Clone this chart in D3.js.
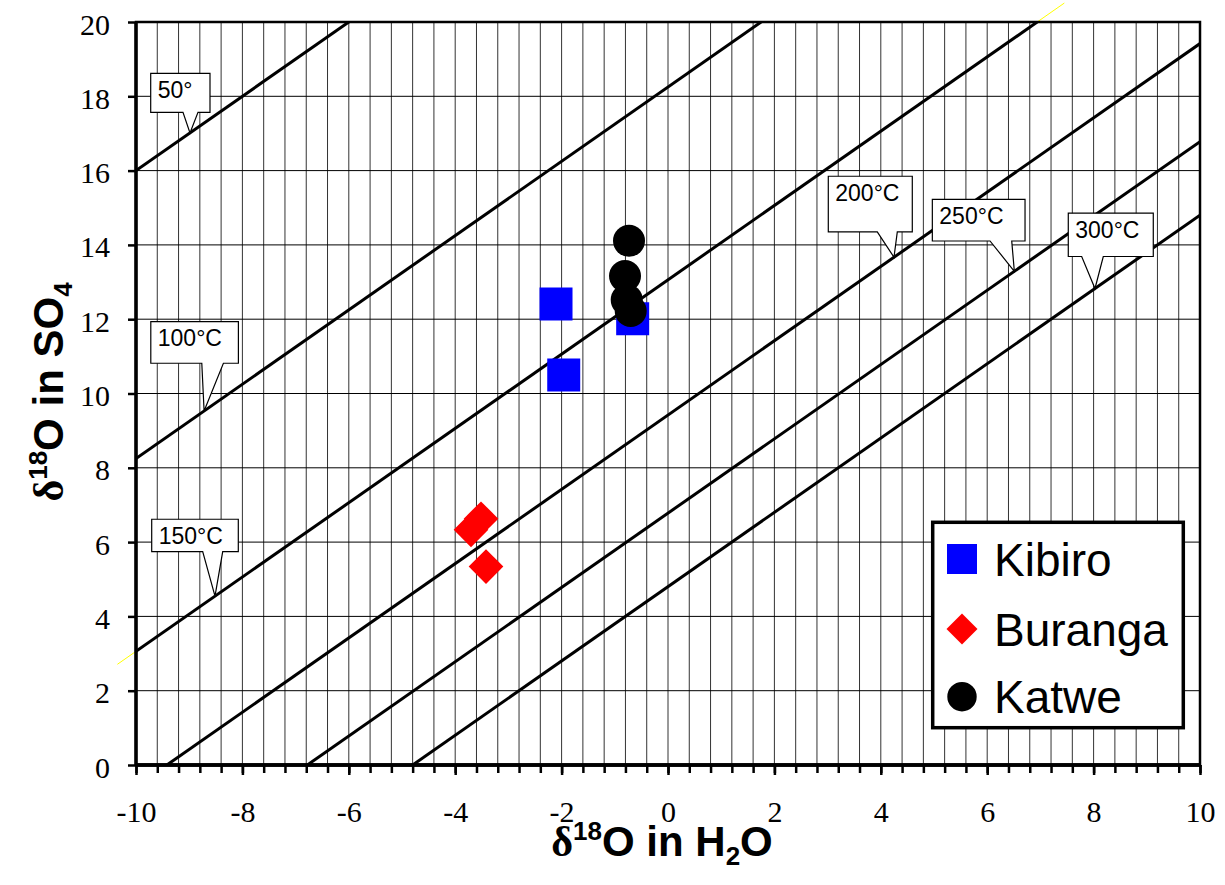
<!DOCTYPE html>
<html>
<head>
<meta charset="utf-8">
<script src="https://cdn.jsdelivr.net/npm/d3@7/dist/d3.min.js"></script>
<style>
  html, body { margin: 0; padding: 0; background: #fff; }
  svg { display: block; }
</style>
</head>
<body>
<svg id="chart" width="1225" height="885"></svg>
<script>
// ---------------- DATA ----------------
const xMajorTicks = [-10, -8, -6, -4, -2, 0, 2, 4, 6, 8, 10];
const yMajorTicks = [0, 2, 4, 6, 8, 10, 12, 14, 16, 18, 20];
const xMinorTicks = d3.range(0, 51).map(i => -10 + i * 0.4);

// Isotherm lines: δ18O(SO4) = δ18O(H2O) + offset
const isoLabels  = ["50°", "100°C", "150°C", "200°C", "250°C", "300°C"];
const isoOffsets = [26.0, 18.25, 13.06, 9.42, 6.78, 4.80];
// x (δ18O H2O) where each callout points on its line
const isoTipX    = [-8.985, -8.72, -8.515, 4.248, 6.51, 8.026];
// yellow overflow of the 150°C line
const yellowRange = [-10.35, 7.45];

const seriesNames = ["Kibiro", "Buranga", "Katwe"];
const kibiroX  = [-2.105, -1.96, -0.664];
const kibiroY  = [12.41, 10.50, 12.01];
const burangaX = [-3.703, -3.515, -3.421];
const burangaY = [6.33, 6.63, 5.34];
const katweX   = [-0.733, -0.808, -0.776, -0.701];
const katweY   = [14.11, 13.16, 12.52, 12.22];

// ---------------- LAYOUT ----------------
const svg = d3.select("#chart");
const L = 136, R = 1200, T = 22, B = 765;
const x = d3.scaleLinear().domain([-10, 10]).range([L, R]);
const y = d3.scaleLinear().domain([0, 20]).range([B, T]);

svg.append("defs").append("clipPath").attr("id", "plotclip")
  .append("rect").attr("x", L).attr("y", T).attr("width", R - L).attr("height", B - T);

// grid
const grid = svg.append("g");
grid.selectAll("line.v").data(xMinorTicks).join("line")
  .attr("x1", d => x(d)).attr("x2", d => x(d)).attr("y1", T).attr("y2", B)
  .attr("stroke", "#333").attr("stroke-width", 1);
grid.selectAll("line.h").data(yMajorTicks).join("line")
  .attr("x1", L).attr("x2", R).attr("y1", d => y(d)).attr("y2", d => y(d))
  .attr("stroke", "#000").attr("stroke-width", 1);

// yellow overflow line (150°C)
const yellowOff = isoOffsets[2];
svg.append("line")
  .attr("x1", x(yellowRange[0])).attr("y1", y(yellowRange[0] + yellowOff))
  .attr("x2", x(yellowRange[1])).attr("y2", y(yellowRange[1] + yellowOff))
  .attr("stroke", "#ffff00").attr("stroke-width", 1);

// isotherm lines
const lines = svg.append("g").attr("clip-path", "url(#plotclip)");
lines.selectAll("line").data(isoOffsets).join("line")
  .attr("x1", x(-10)).attr("y1", d => y(-10 + d))
  .attr("x2", x(10)).attr("y2", d => y(10 + d))
  .attr("stroke", "#000").attr("stroke-width", 3);

// plot border (top & right)
svg.append("rect").attr("x", L).attr("y", T).attr("width", R - L).attr("height", B - T)
  .attr("fill", "none").attr("stroke", "#000").attr("stroke-width", 2.5);

// callouts: box geometry relative to tip (pixels)
const callLayout = [
  { dx: -39.3, dy: -59.6, w: 59.3, h: 39,   b0: -7,  b1: 8 },
  { dx: -53.3, dy: -89.3, w: 87.6, h: 41.6, b0: -2.3, b1: 19.3 },
  { dx: -63.3, dy: -76.9, w: 86.6, h: 32.4, b0: -12.3, b1: 7.7 },
  { dx: -65.7, dy: -81,   w: 84,   h: 55.7, b0: -16.7, b1: 3.3 },
  { dx: -82,   dy: -72,   w: 92.7, h: 41.7, b0: -24.3, b1: -2.6 },
  { dx: -26.7, dy: -75.3, w: 85,   h: 43.3, b0: -13.3, b1: 8.3 }
];
const callG = svg.append("g");
isoLabels.forEach((lab, i) => {
  const tx = x(isoTipX[i]);
  const ty = y(isoTipX[i] + isoOffsets[i]);
  const c = callLayout[i];
  const bx = tx + c.dx, by = ty + c.dy, bw = c.w, bh = c.h;
  const p = [
    [bx, by], [bx + bw, by], [bx + bw, by + bh],
    [tx + c.b1, by + bh], [tx, ty], [tx + c.b0, by + bh],
    [bx, by + bh]
  ];
  callG.append("path")
    .attr("d", "M" + p.map(q => q.join(",")).join("L") + "Z")
    .attr("fill", "#fff").attr("stroke", "#000").attr("stroke-width", 1.2);
  callG.append("text")
    .attr("x", bx + 7).attr("y", by + 24.5)
    .attr("font-family", "Liberation Sans, Arial, sans-serif")
    .attr("font-size", 23).attr("fill", "#000")
    .text(lab);
});

// axes
const axX = svg.append("g").attr("transform", `translate(0,${B})`);
axX.call(d3.axisBottom(x).tickValues(xMinorTicks).tickSize(8).tickFormat(""));
const axXMaj = svg.append("g").attr("transform", `translate(0,${B})`);
axXMaj.call(d3.axisBottom(x).tickValues(xMajorTicks).tickSize(10).tickFormat(d3.format("d")));
[axX, axXMaj].forEach(g => {
  g.select(".domain").attr("stroke", "#000").attr("stroke-width", 3.5).attr("d", `M${L},0H${R}`);
  g.selectAll(".tick line").attr("stroke", "#000").attr("stroke-width", 2.5);
});
axXMaj.selectAll(".tick text")
  .attr("y", 57).attr("dy", 0)
  .attr("font-family", "Liberation Serif, Times New Roman, serif")
  .attr("font-size", 30).attr("fill", "#000")
  .text(d => d < 0 ? "-" + Math.abs(d) : d);

const axY = svg.append("g").attr("transform", `translate(${L},0)`);
axY.call(d3.axisLeft(y).tickValues(yMajorTicks).tickSize(8).tickPadding(18));
axY.select(".domain").attr("stroke", "#000").attr("stroke-width", 3.5).attr("d", `M0,${B}V${T}`);
axY.selectAll(".tick line").attr("stroke", "#000").attr("stroke-width", 2.5);
axY.selectAll(".tick text")
  .attr("dy", "0.4em")
  .attr("font-family", "Liberation Serif, Times New Roman, serif")
  .attr("font-size", 30).attr("fill", "#000");

// data markers
const pts = svg.append("g");
const sq = d3.symbol().type(d3.symbolSquare).size(1089);
const dia = d3.symbol().type(d3.symbolSquare).size(600);
const circ = d3.symbol().type(d3.symbolCircle).size(804);
pts.selectAll("path.k").data(d3.range(kibiroX.length)).join("path")
  .attr("d", sq).attr("fill", "#0000ff")
  .attr("transform", i => `translate(${x(kibiroX[i])},${y(kibiroY[i])})`);
pts.selectAll("path.b").data(d3.range(burangaX.length)).join("path")
  .attr("d", dia).attr("fill", "#ff0000")
  .attr("transform", i => `translate(${x(burangaX[i])},${y(burangaY[i])}) rotate(45)`);
pts.selectAll("path.c").data(d3.range(katweX.length)).join("path")
  .attr("d", circ).attr("fill", "#000")
  .attr("transform", i => `translate(${x(katweX[i])},${y(katweY[i])})`);

// legend
const lg = svg.append("g");
lg.append("rect").attr("x", 932.7).attr("y", 522.3).attr("width", 250.6).attr("height", 205.4)
  .attr("fill", "#fff").attr("stroke", "#000").attr("stroke-width", 3.5);
const legSyms = [
  { d: d3.symbol().type(d3.symbolSquare).size(900)(), fill: "#0000ff", rot: 0 },
  { d: d3.symbol().type(d3.symbolSquare).size(480)(), fill: "#ff0000", rot: 45 },
  { d: d3.symbol().type(d3.symbolCircle).size(679)(), fill: "#000", rot: 0 }
];
const legY = [559, 629, 696.7];
seriesNames.forEach((n, i) => {
  lg.append("path").attr("d", legSyms[i].d).attr("fill", legSyms[i].fill)
    .attr("transform", `translate(962,${legY[i]}) rotate(${legSyms[i].rot})`);
  lg.append("text").attr("x", 994).attr("y", legY[i] + 16.5)
    .attr("font-family", "Liberation Sans, Arial, sans-serif")
    .attr("font-size", 46).attr("fill", "#000").text(n);
});

// axis titles
const tFont = "Liberation Sans, Arial, sans-serif";
const xt = svg.append("text").attr("x", 662).attr("y", 856)
  .attr("text-anchor", "middle").attr("font-family", tFont)
  .attr("font-weight", "bold").attr("font-size", 42).attr("fill", "#000");
xt.append("tspan").attr("font-family", "Liberation Serif, serif").text("δ");
xt.append("tspan").attr("font-size", 26).attr("dy", -16).text("18");
xt.append("tspan").attr("dy", 16).text("O in H");
xt.append("tspan").attr("font-size", 26).attr("dy", 9).text("2");
xt.append("tspan").attr("dy", -9).text("O");

const yt = svg.append("text").attr("transform", "translate(63,392) rotate(-90)")
  .attr("text-anchor", "middle").attr("font-family", tFont)
  .attr("font-weight", "bold").attr("font-size", 42).attr("fill", "#000");
yt.append("tspan").attr("font-family", "Liberation Serif, serif").text("δ");
yt.append("tspan").attr("font-size", 26).attr("dy", -16).text("18");
yt.append("tspan").attr("dy", 16).text("O in SO");
yt.append("tspan").attr("font-size", 26).attr("dy", 9).text("4");
</script>
</body>
</html>
